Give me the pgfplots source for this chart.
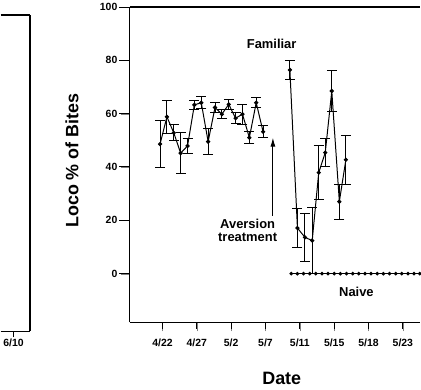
\documentclass[border=0pt]{standalone}
\usepackage{fontspec}
\setmainfont{Liberation Sans}
\usepackage{pgfplots}
\pgfplotsset{compat=1.18}
\usepackage{pgfplotstable}
\usetikzlibrary{arrows.meta}
\pgfplotstableread{
x y e
-0.35 48.6 8.8
0.65 58.8 6.3
1.65 52.8 3.0
2.65 45.2 7.6
3.65 47.9 2.7
4.65 63.3 1.8
5.65 64.1 2.2
6.65 49.5 4.8
7.65 62.3 1.8
8.65 59.8 1.6
9.65 63.5 1.8
10.65 58.3 2.0
11.65 59.8 3.8
12.65 51.0 2.2
13.65 64.1 1.8
14.65 53.2 2.2
}\famPre
\pgfplotstableread{
x y e
18.55 76.4 3.7
19.65 17.1 7.4
20.75 13.6 8.9
21.8 12.4 12.4
22.75 37.9 10.0
23.7 45.4 5.2
24.65 68.5 7.6
25.75 27.0 6.6
26.7 42.7 9.2
}\famPost
\pgfplotstableread{
x y
18.75 0
19.64 0
20.54 0
21.43 0
22.33 0
23.22 0
24.11 0
25.01 0
25.90 0
26.80 0
27.69 0
28.58 0
29.48 0
30.37 0
31.27 0
32.16 0
33.05 0
33.95 0
34.84 0
35.74 0
36.63 0
37.45 0
}\naive
\pgfplotsset{
  panel/.style={
    scale only axis, anchor=south west,
    axis line style={line width=1.2pt},
    tick align=outside,
    xtick pos=left,
    tick label style={font=\bfseries\fontsize{10.5}{12}\selectfont},
    /pgf/number format/assume math mode=true,
    clip=false,
  }
}
\begin{document}
\begin{tikzpicture}
\path (0bp,0bp) rectangle (421bp,389bp);
% left panel (partly visible)
\begin{axis}[panel, at={(0.6bp,58bp)}, width=29.4bp, height=317bp,
  axis y line*=right,
  xmin=0, xmax=30, ymin=0, ymax=1,
  xtick={13.1}, xticklabels={6/10}, ytick=\empty,
  xticklabel style={yshift=2bp},
  major tick length=6bp]
\draw[line width=1pt] (axis cs:13.1,0) -- ++(0bp,-6bp);
\end{axis}
% right panel
\begin{axis}[panel, at={(130bp,67bp)}, width=290.4bp, height=316bp,
  axis y line*=left,
  xmin=-4.75, xmax=37.45, ymin=-18.3, ymax=100,
  xtick={0,5,...,35},
  xticklabels={4/22,4/27,5/2,5/7,5/11,5/15,5/18,5/23},
  ytick={0,20,40,60,80,100},
  major tick length=9bp,
  xticklabel style={yshift=-4bp},
  xlabel={Date}, ylabel={Loco \% of Bites},
  label style={font=\bfseries\fontsize{18}{20}\selectfont, inner sep=0pt},
  xlabel style={at={(axis description cs:0.524,-0.176)}, anchor=center},
  ylabel style={at={(axis description cs:-0.1997,0.513)}, anchor=center},
  error bars/y dir=both, error bars/y explicit,
  error bars/error bar style={line width=1pt, black},
  error bars/error mark options={rotate=90, line width=1pt, mark size=5bp, black},
]
\pgfplotsinvokeforeach{0,20,40,60,80,100}{
  \draw[line width=1pt] (axis cs:-4.75,#1) -- ++(-11bp,0bp);
}
\pgfplotsinvokeforeach{0,5,10,15,20,25,30,35}{
  \draw[line width=1pt] (axis cs:#1,-18.3) -- ++(0bp,-7bp);
}
\addplot[black, line width=1pt, mark=*, mark size=1.6bp]
  table[x=x, y=y, y error=e]{\famPre};
\addplot[black, line width=1pt, mark=*, mark size=1.6bp]
  table[x=x, y=y, y error=e]{\famPost};
\addplot[black, line width=1pt, mark=*, mark size=1.3bp,
  error bars/y dir=none]
  table[x=x, y=y]{\naive};
\draw[-{Latex[length=9bp,width=5bp]}, line width=1pt]
  (axis cs:16.08,21.7) -- (axis cs:16.08,51.0);
\node[font=\bfseries\fontsize{13}{15}\selectfont] at (axis cs:15.9,86.1) {Familiar};
\node[font=\bfseries\fontsize{13}{12.5}\selectfont, align=center] at (axis cs:12.4,16.3) {Aversion\\treatment};
\node[font=\bfseries\fontsize{13}{15}\selectfont] at (axis cs:28.24,-6.7) {Naive};
\end{axis}
\end{tikzpicture}
\end{document}
